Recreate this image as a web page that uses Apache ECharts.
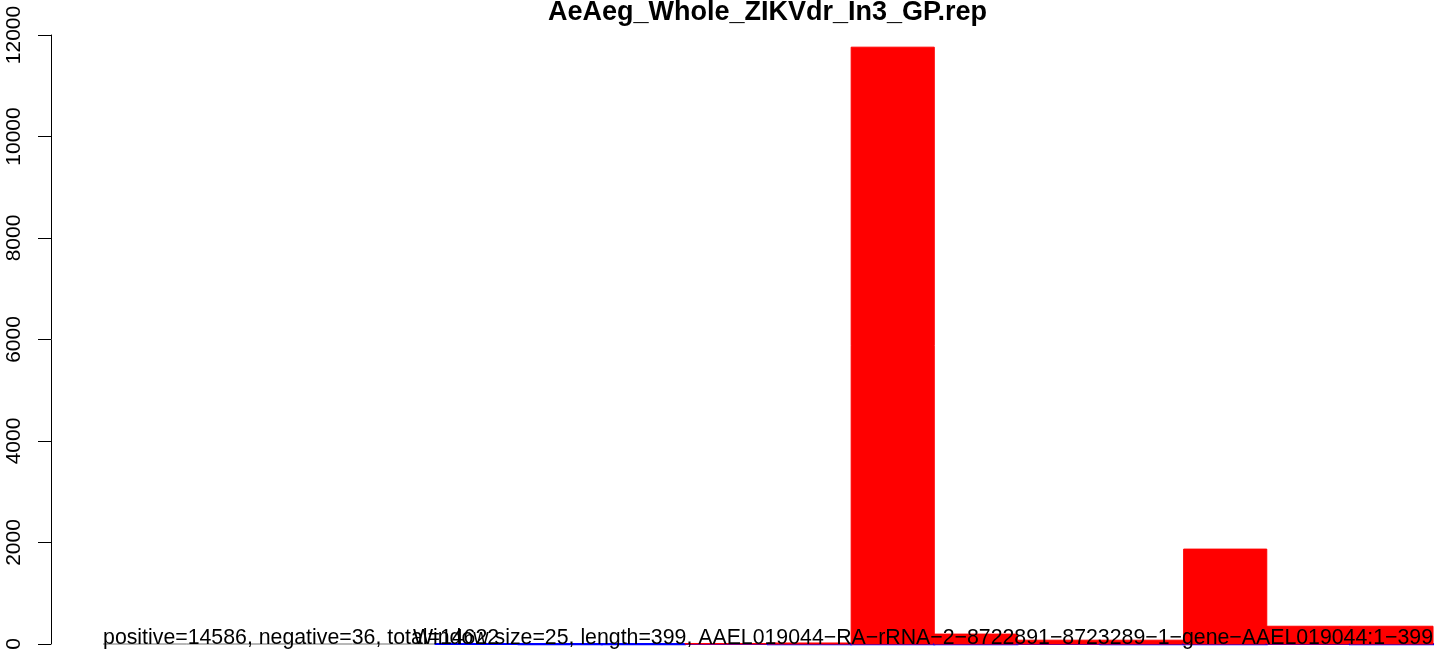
<!DOCTYPE html>
<html>
<head>
<meta charset="utf-8">
<script src="https://cdn.jsdelivr.net/npm/echarts@6/dist/echarts.min.js"></script>
<style>
html,body{margin:0;padding:0;background:#fff;}
#chart{width:1444px;height:653px;}
</style>
</head>
<body>
<div id="chart"></div>
<script>
// ---- data ----
const titleText = 'AeAeg_Whole_ZIKVdr_In3_GP.rep';
const windowIndex = [0,1,2,3,4,5,6,7,8,9,10,11,12,13,14,15];
const positiveCounts = [0,0,0,0,0,0,0,10,20,11760,195,75,75,1870,350,350];
const negativeCounts = [0,0,0,0,2,4,3,1,5,3,4,2,3,4,2,3];
const yTickValues = [0,2000,4000,6000,8000,10000,12000];
const infoLeft = 'positive=14586, negative=36, total=14622';
const infoRight = 'Window size=25, length=399, AAEL019044\u2212RA\u2212rRNA\u22122\u22128722891\u22128723289\u22121\u2212gene\u2212AAEL019044:1\u2212399';

const FONT = 'Liberation Sans, Arial, Helvetica, sans-serif';
const seriesData = windowIndex.map((k, i) => [k, positiveCounts[i], negativeCounts[i]]);

function renderItem(params, api) {
  const k = api.value(0), p = api.value(1), n = api.value(2);
  const a = api.coord([k, 0]);
  const b = api.coord([k + 1, 0]);
  const children = [{
    type: 'line',
    shape: {x1: a[0], y1: a[1], x2: b[0], y2: b[1]},
    style: {stroke: '#a0a0a0', lineWidth: 1.5}
  }];
  if (n > 0) {
    const nb = api.coord([k + 1, -n]);
    children.push({
      type: 'rect',
      shape: {x: a[0], y: a[1], width: nb[0] - a[0], height: Math.max(nb[1] - a[1], 0)},
      style: {fill: '#0000ff', stroke: '#0000ff', lineWidth: 2}
    });
  }
  if (p > 0) {
    const pt = api.coord([k + 1, p]);
    children.push({
      type: 'rect',
      shape: {x: a[0], y: pt[1], width: pt[0] - a[0], height: a[1] - pt[1]},
      style: {fill: '#ff0000', stroke: '#ff0000', lineWidth: 1}
    });
  }
  return {type: 'group', children: children};
}

const chart = echarts.init(document.getElementById('chart'), null, {renderer: 'canvas'});
chart.setOption({
  backgroundColor: '#ffffff',
  animation: false,
  title: {
    text: titleText,
    left: 767.5,
    top: -1,
    padding: 0,
    textAlign: 'center',
    textStyle: {fontSize: 27, fontWeight: 'bold', fontFamily: FONT, color: '#000'}
  },
  grid: {left: 51, right: 0, top: 35, bottom: 9, containLabel: false, outerBoundsMode: 'none'},
  xAxis: {type: 'value', min: -0.626, max: 16.132, show: false},
  yAxis: {
    type: 'value', min: 0, max: 12000, interval: 2000,
    axisLine: {show: true, onZero: false, lineStyle: {color: '#000', width: 1}},
    axisTick: {show: true, length: 13, lineStyle: {color: '#000', width: 1}, customValues: yTickValues},
    axisLabel: {rotate: 90, fontSize: 21, color: '#000', fontFamily: FONT, margin: 26,
      customValues: yTickValues, formatter: v => String(v)},
    splitLine: {show: false}
  },
  series: [{
    type: 'custom',
    renderItem: renderItem,
    data: seriesData,
    clip: false,
    encode: {x: 0, y: 1}
  }]
});

const pL = chart.convertToPixel({gridIndex: 0}, [windowIndex[0], 0]);
const pR = chart.convertToPixel({gridIndex: 0}, [windowIndex[windowIndex.length - 1] + 1, 0]);
chart.setOption({
  graphic: [
    {type: 'text', x: pL[0], y: pL[1] - 5.5, z: 100,
     style: {text: infoLeft, fill: '#000', font: '21.3px ' + FONT, textAlign: 'left', textVerticalAlign: 'middle', align: 'left', verticalAlign: 'middle'}},
    {type: 'text', x: pR[0], y: pR[1] - 5.5, z: 100,
     style: {text: infoRight, fill: '#000', font: '21.3px ' + FONT, textAlign: 'right', textVerticalAlign: 'middle', align: 'right', verticalAlign: 'middle'}}
  ]
});
</script>
</body>
</html>
